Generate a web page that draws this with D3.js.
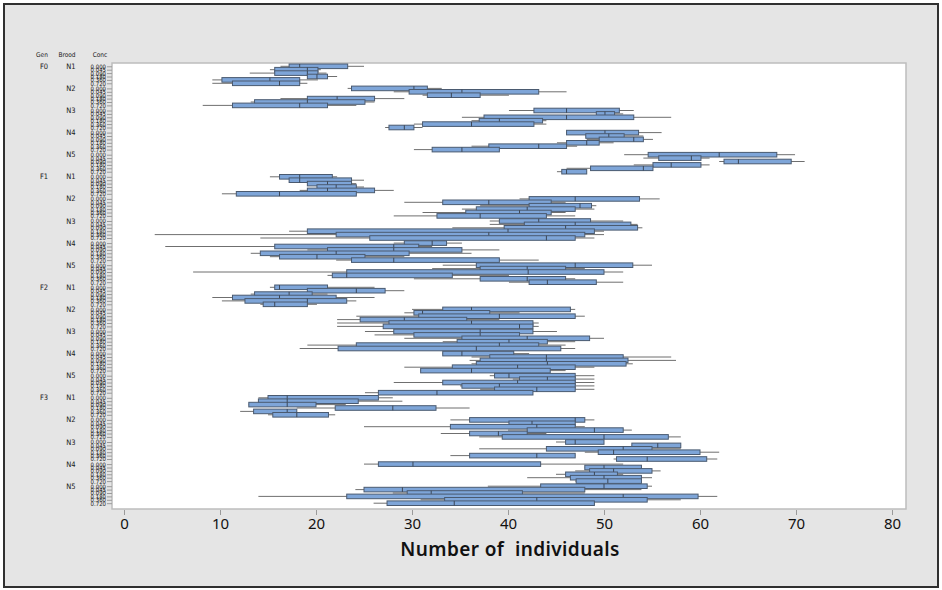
<!DOCTYPE html>
<html lang="en">
<head>
<meta charset="UTF-8">
<title>Number of individuals by Gen, Brood and Conc</title>
<script src="https://d3js.org/d3.v7.min.js"></script>
<style>
  body { margin: 0; background: #fff; }
  svg { display: block; }
</style>
</head>
<body>
<svg id="chart" width="942" height="590"></svg>
<script>
const gens = ["F0", "F1", "F2", "F3"];
const broods = ["N1", "N2", "N3", "N4", "N5"];
const concs = ["0.000", "0.045", "0.090", "0.180", "0.360", "0.720"];
const xTicks = [0, 10, 20, 30, 40, 50, 60, 70, 80];

// one line per Gen/Brood block, six concentrations each
const wLow = [
  16.3, 15.2, 13.1, 19.1, 9.2, 9.2,
  23.3, 28.1, 31.1, 16.3, 13.2, 8.2,
  40.1, 49.2, 35.2, 36.2, 30.2, 27.2,
  46.1, 48.1, 48.2, 45.1, 36.2, 30.2,
  52.1, 54.1, 62.0, 53.1, 46.1, 45.1,
  15.2, 17.2, 19.1, 20.1, 18.3, 10.2,
  41.2, 29.2, 37.1, 35.2, 31.1, 28.1,
  38.1, 38.1, 34.2, 17.2, 3.2, 14.2,
  28.1, 4.3, 19.1, 13.2, 15.2, 22.1,
  33.2, 32.1, 7.2, 21.2, 30.2, 40.1,
  15.2, 19.1, 13.2, 9.2, 10.2, 14.2,
  30.0, 29.2, 24.2, 22.2, 22.2, 22.2,
  25.1, 26.1, 29.2, 33.2, 19.1, 18.3,
  33.2, 36.2, 36.0, 36.2, 29.2, 30.9,
  38.1, 40.5, 28.1, 35.0, 37.1, 25.1,
  14.0, 14.0, 13.0, 18.0, 12.1, 15.0,
  34.0, 40.1, 25.0, 40.0, 33.0, 37.0,
  45.0, 52.9, 37.0, 48.0, 34.0, 51.0,
  25.0, 48.0, 47.0, 45.0, 42.0, 47.0,
  37.9, 24.1, 28.0, 14.0, 30.9, 26.0
];
const q1 = [
  17.2, 15.7, 15.7, 19.1, 10.2, 11.3,
  23.7, 29.7, 31.6, 19.1, 13.6, 11.3,
  42.7, 49.2, 37.5, 37.0, 31.1, 27.6,
  46.1, 48.1, 49.5, 46.1, 38.0, 32.1,
  54.6, 55.7, 62.5, 55.1, 48.6, 45.6,
  16.2, 17.2, 19.1, 20.1, 19.1, 11.7,
  42.2, 33.2, 42.2, 36.7, 35.6, 32.6,
  39.1, 41.7, 39.6, 19.1, 22.1, 25.6,
  29.2, 15.7, 21.2, 14.2, 16.2, 23.7,
  36.7, 37.1, 23.2, 21.7, 37.1, 42.2,
  15.7, 19.1, 13.6, 11.3, 12.6, 14.5,
  33.2, 30.2, 30.7, 24.6, 27.6, 27.0,
  28.1, 30.2, 35.2, 34.7, 24.2, 22.3,
  33.2, 38.1, 37.1, 36.7, 34.2, 30.9,
  38.6, 41.2, 33.2, 35.2, 38.6, 26.5,
  15.0, 14.0, 13.0, 22.0, 13.5, 15.5,
  36.0, 40.1, 34.0, 42.0, 36.0, 39.4,
  46.0, 52.9, 44.0, 49.4, 36.0, 51.3,
  26.5, 48.0, 48.5, 46.0, 46.5, 47.1,
  43.4, 25.0, 29.5, 23.2, 33.4, 27.4
];
const med = [
  18.3, 19.1, 19.1, 20.1, 15.2, 16.2,
  30.2, 35.2, 34.1, 22.2, 19.1, 18.3,
  46.1, 50.1, 46.1, 39.1, 36.2, 29.2,
  50.1, 50.5, 53.1, 48.2, 43.2, 35.2,
  62.0, 59.1, 64.0, 57.0, 54.1, 46.1,
  18.3, 18.3, 21.2, 22.1, 21.2, 16.2,
  47.0, 38.0, 47.5, 42.0, 41.2, 37.1,
  43.2, 47.0, 46.0, 40.0, 38.0, 44.0,
  32.1, 28.1, 28.1, 22.1, 20.1, 28.1,
  47.0, 42.0, 42.1, 23.2, 42.0, 44.1,
  16.2, 24.2, 17.2, 16.2, 19.1, 15.7,
  36.2, 31.1, 39.1, 29.2, 36.2, 41.2,
  37.1, 37.1, 42.0, 40.1, 39.1, 36.7,
  35.2, 44.0, 44.0, 44.1, 41.0, 36.2,
  40.1, 44.1, 41.0, 39.1, 43.0, 32.6,
  17.0, 17.0, 17.0, 28.0, 17.0, 18.0,
  47.0, 42.5, 43.0, 49.0, 39.0, 50.0,
  47.0, 55.6, 52.0, 51.0, 43.0, 54.5,
  30.1, 50.0, 51.0, 49.0, 50.0, 50.4,
  50.0, 29.0, 32.0, 52.0, 43.0, 34.4
];
const q3 = [
  23.3, 20.2, 20.2, 21.2, 18.3, 18.3,
  31.6, 43.2, 37.1, 26.1, 25.1, 21.2,
  51.6, 51.1, 53.1, 43.6, 42.7, 30.2,
  53.6, 52.1, 54.1, 49.5, 46.1, 39.1,
  68.0, 60.1, 69.5, 60.1, 55.1, 48.2,
  21.7, 23.7, 23.7, 24.2, 26.1, 24.2,
  53.7, 44.5, 48.7, 47.0, 44.5, 44.0,
  48.6, 52.8, 53.5, 49.0, 48.0, 47.0,
  33.6, 30.7, 35.2, 29.7, 25.1, 39.1,
  53.0, 46.0, 50.0, 34.2, 46.0, 49.2,
  21.2, 27.2, 19.6, 22.1, 23.2, 19.1,
  46.5, 38.1, 47.0, 35.7, 42.6, 42.6,
  42.6, 41.2, 48.5, 44.1, 43.2, 45.5,
  40.6, 52.0, 52.5, 52.3, 47.0, 44.4,
  47.0, 47.0, 47.0, 47.0, 47.0, 42.6,
  26.5, 24.4, 20.0, 32.5, 18.0, 21.3,
  48.0, 47.0, 47.0, 52.0, 42.0, 56.7,
  50.0, 58.0, 55.0, 60.0, 47.0, 60.7,
  43.4, 53.9, 55.0, 51.4, 53.9, 53.9,
  54.5, 48.0, 41.5, 59.8, 54.5, 49.0
];
const wHigh = [
  25.0, 20.5, 21.1, 22.2, 20.2, 19.1,
  33.1, 46.1, 40.1, 29.2, 26.1, 24.2,
  53.1, 52.0, 57.0, 44.0, 44.0, 31.1,
  56.0, 54.1, 55.1, 51.0, 47.2, 39.1,
  69.9, 61.0, 70.9, 61.0, 55.1, 48.2,
  22.2, 25.0, 24.2, 25.0, 28.1, 24.2,
  55.8, 46.0, 49.2, 49.0, 46.0, 47.0,
  52.0, 53.5, 54.0, 50.0, 50.0, 49.0,
  35.2, 32.1, 39.1, 36.2, 29.2, 43.2,
  55.0, 48.0, 52.0, 40.1, 47.0, 52.0,
  26.1, 29.2, 21.2, 26.1, 24.2, 20.1,
  47.0, 41.2, 48.0, 39.1, 43.2, 43.2,
  45.1, 41.2, 50.0, 47.0, 46.0, 47.0,
  42.2, 57.0, 57.5, 53.0, 49.0, 46.0,
  49.0, 49.0, 49.0, 49.0, 49.0, 42.6,
  28.0, 29.0, 23.1, 36.0, 18.0, 22.0,
  49.0, 47.0, 48.0, 52.9, 44.0, 58.0,
  50.0, 58.0, 58.0, 62.0, 47.0, 61.8,
  52.0, 53.9, 55.9, 52.0, 55.0, 53.9,
  55.0, 53.9, 48.0, 61.8, 58.0, 49.0
];

const svg = d3.select("#chart");
const width = +svg.attr("width");
const height = +svg.attr("height");
const panel = { left: 112, top: 63, right: 906, bottom: 509 };
const font = "'Noto Sans', 'Open Sans', sans-serif";
const narrow = "'DejaVu Sans Condensed', 'Liberation Sans Narrow', sans-serif";

// outer frame and plot panel
svg.append("rect")
  .attr("x", 4).attr("y", 4)
  .attr("width", width - 8).attr("height", height - 7)
  .attr("fill", "#e5e5e5").attr("stroke", "#303030").attr("stroke-width", 2);
svg.append("rect")
  .attr("x", panel.left).attr("y", panel.top)
  .attr("width", panel.right - panel.left).attr("height", panel.bottom - panel.top)
  .attr("fill", "#fff").attr("stroke", "#bdbdbd").attr("stroke-width", 1.5);

const rows = [];
gens.forEach((g, gi) => broods.forEach((b, bi) => concs.forEach((c, ci) => {
  const block = gi * broods.length + bi;
  const i = block * concs.length + ci;
  rows.push({
    gen: g, brood: b, conc: c, block: block, ci: ci,
    slot: block * 6.5 + ci,
    lo: wLow[i], q1: q1[i], med: med[i], q3: q3[i], hi: wHigh[i]
  });
})));

const xScale = d3.scaleLinear().domain([0, 80]).range([124, 892]);
const yScale = d3.scaleLinear()
  .domain([0, d3.max(rows, d => d.slot)])
  .range([66.3, 503.2]);

// boxes are taller than the row step; each row covers the lower part of the one above
const boxH = 4.6;
const boxes = svg.append("g").selectAll("g.box")
  .data(rows)
  .enter().append("g")
  .attr("class", "box");

boxes.append("line")
  .attr("x1", d => xScale(d.lo))
  .attr("x2", d => xScale(d.hi))
  .attr("y1", d => yScale(d.slot))
  .attr("y2", d => yScale(d.slot))
  .attr("stroke", "#5f5f5f")
  .attr("stroke-width", 0.9);

boxes.append("rect")
  .attr("x", d => xScale(d.q1))
  .attr("y", d => yScale(d.slot) - boxH / 2)
  .attr("width", d => xScale(d.q3) - xScale(d.q1))
  .attr("height", boxH)
  .attr("fill", "#7ea5d8")
  .attr("stroke", "#4a5a70")
  .attr("stroke-width", 1);

boxes.append("line")
  .attr("x1", d => xScale(d.med))
  .attr("x2", d => xScale(d.med))
  .attr("y1", d => yScale(d.slot) - boxH / 2)
  .attr("y2", d => yScale(d.slot) + boxH / 2)
  .attr("stroke", "#3b4758")
  .attr("stroke-width", 1);

// left axis: concentration for every row
const concBySlot = new Map(rows.map(d => [d.slot, d.conc]));
const yAxis = d3.axisLeft(yScale)
  .tickValues(rows.map(d => d.slot))
  .tickFormat(v => concBySlot.get(v))
  .tickSize(5)
  .tickPadding(1);
const yG = svg.append("g")
  .attr("transform", `translate(${panel.left},0)`)
  .call(yAxis);
yG.select(".domain").remove();
yG.selectAll(".tick line").attr("stroke", "#9a9a9a");
yG.selectAll(".tick text")
  .attr("font-family", narrow)
  .attr("font-size", 6)
  .style("fill", "#1a1a1a");

// gen and brood labels
const firstRows = rows.filter(d => d.ci === 0);
svg.selectAll("text.brood")
  .data(firstRows)
  .enter().append("text")
  .attr("class", "brood")
  .attr("x", 71)
  .attr("y", d => yScale(d.slot) + 2.5)
  .attr("text-anchor", "middle")
  .attr("font-family", narrow)
  .attr("font-size", 7.5)
  .style("fill", "#1a1a1a")
  .text(d => d.brood);
svg.selectAll("text.gen")
  .data(firstRows.filter(d => d.brood === broods[0]))
  .enter().append("text")
  .attr("class", "gen")
  .attr("x", 44)
  .attr("y", d => yScale(d.slot) + 2.5)
  .attr("text-anchor", "middle")
  .attr("font-family", narrow)
  .attr("font-size", 7.5)
  .style("fill", "#1a1a1a")
  .text(d => d.gen);

const headers = [["Gen", 42], ["Brood", 67], ["Conc", 100]];
svg.selectAll("text.head")
  .data(headers)
  .enter().append("text")
  .attr("class", "head")
  .attr("x", d => d[1])
  .attr("y", 57)
  .attr("text-anchor", "middle")
  .attr("font-family", narrow)
  .attr("font-size", 6.5)
  .style("fill", "#1a1a1a")
  .text(d => d[0]);

// bottom axis
const xAxis = d3.axisBottom(xScale)
  .tickValues(xTicks)
  .tickSize(5)
  .tickPadding(3);
const xG = svg.append("g")
  .attr("transform", `translate(0,${panel.bottom + 1})`)
  .call(xAxis);
xG.select(".domain").remove();
xG.selectAll(".tick line").attr("stroke", "#9a9a9a");
xG.selectAll(".tick text")
  .attr("font-family", font)
  .attr("font-size", 15)
  .style("fill", "#111");

svg.append("text")
  .attr("x", 510)
  .attr("y", 556)
  .attr("text-anchor", "middle")
  .attr("font-family", font)
  .attr("font-size", 19)
  .attr("font-weight", 600)
  .attr("letter-spacing", 0.4)
  .style("fill", "#111")
  .style("white-space", "pre")
  .text("Number of  individuals");
</script>
</body>
</html>
